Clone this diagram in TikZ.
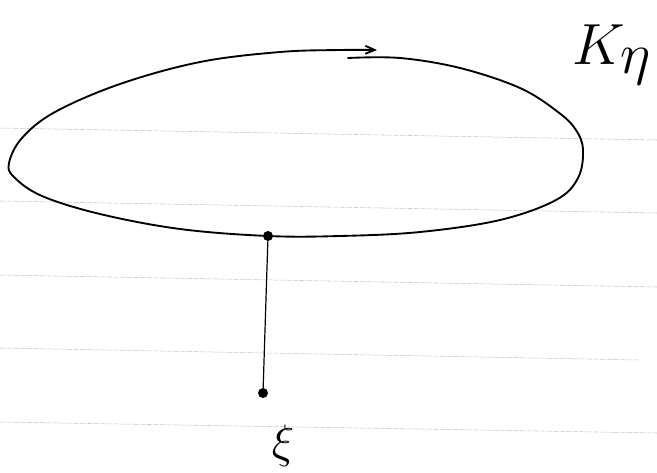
\documentclass[tikz,border=0pt]{standalone}
\usetikzlibrary{arrows.meta}
\begin{document}
\begin{tikzpicture}[x=0.75pt,y=-0.75pt,
  rule/.style={gray!45,line width=0.4pt,dash pattern=on 4pt off 1pt},
  curve/.style={line width=1.4pt,line join=round,line cap=round},
  dotnode/.style={circle,fill=black,inner sep=0pt,minimum size=7.5pt},
  lbl/.style={inner sep=0pt}]
\useasboundingbox (0,0) rectangle (657,472);
% ruled paper lines
\draw[rule] (0,128) -- (657,140);
\draw[rule] (0,201) -- (657,213);
\draw[rule] (0,275) -- (657,287);
\draw[rule] (0,348) -- (640,360);
\draw[rule] (0,422) -- (657,433);
% closed curve with arrow
\draw[curve,-{Straight Barb[length=7pt,width=6pt]}] plot[smooth,tension=0.6] coordinates {
 (348,58) (400,58) (460,68) (520,88) (558,112) (576,130) (583,150) (578,178)
 (556,200) (500,220) (420,232) (340,236) (268,236) (180,229) (100,214)
 (42,196) (14,177) (9,163) (22,138) (55,112) (120,84) (200,62) (280,52) (340,50) (377,50)};
% points
\node[dotnode] (p) at (268,236) {};
\node[dotnode] (q) at (263,393) {};
\draw[line width=0.9pt] (p) -- (q);
% labels
\node[lbl,scale=2.1] (k) at (612,55) {\huge$K_{\textstyle\eta}$};
\node[lbl,scale=1.7] (xi) at (283,446) {\huge$\xi$};
\end{tikzpicture}
\end{document}
